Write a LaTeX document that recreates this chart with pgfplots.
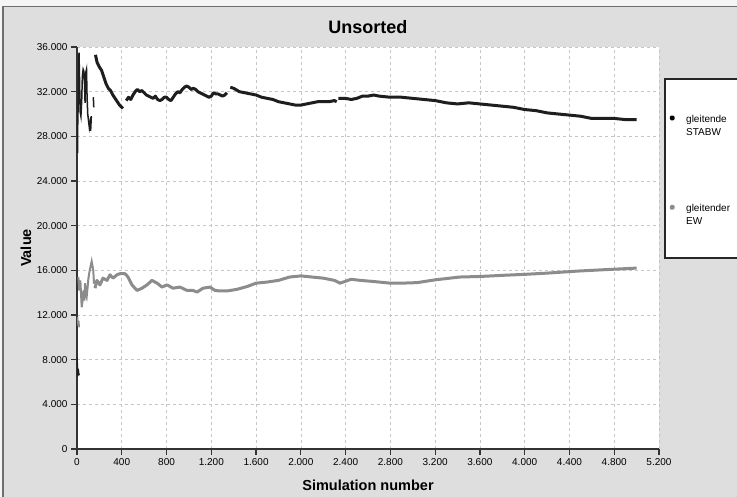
\documentclass[border=0pt]{standalone}
\usepackage{pgfplots}
\pgfplotsset{compat=1.18}
\usepackage{fontspec}
\setmainfont{Liberation Sans}
\definecolor{bgc}{RGB}{222,222,222}
\definecolor{framec}{RGB}{110,110,110}
\definecolor{stabw}{RGB}{30,30,30}
\definecolor{ew}{RGB}{140,140,140}
\begin{document}
\begin{tikzpicture}
\useasboundingbox (0,0) rectangle (737pt,497pt);
\fill[bgc] (0,0) rectangle (737pt,497pt);
\fill[gray!8] (0,491pt) rectangle (737pt,497pt);
\fill[gray!8] (0,0) rectangle (3pt,497pt);
\draw[framec, line width=1.5pt] (3pt,0) -- (3pt,490.5pt) -- (737pt,490.5pt);
\fill[white] (665pt,418pt) rectangle (760pt,239pt);
\draw[black!85, line width=1.5pt] (760pt,418pt) -- (665pt,418pt) -- (665pt,239pt) -- (760pt,239pt);
\begin{axis}[
  at={(77pt,48pt)}, anchor=south west,
  scale only axis, width=582pt, height=402pt,
  xmin=0, xmax=5200, ymin=0, ymax=36000,
  xtick={0,400,...,5200}, ytick={0,4000,...,36000},
  scaled ticks=false,
  /pgf/number format/.cd, 1000 sep={.}, assume math mode=true, /pgfplots/.cd,
  axis x line*=bottom, axis y line*=left,
  axis line style={black!80, line width=1.5pt, -},
  axis background/.style={fill=white},
  tick align=outside, major tick length=6pt,
  tick style={black!80, line width=1.2pt},
  grid=major,
  major grid style={gray!45, line width=0.6pt, dash pattern=on 3pt off 3pt},
  ticklabel style={font=\fontsize{10}{12}\selectfont},
  title={Unsorted},
  title style={font=\fontsize{18}{20}\selectfont\bfseries, at={(axis description cs:0.5,1.034)}, anchor=center},
  xlabel={Simulation number},
  xlabel style={font=\fontsize{14.5}{16}\selectfont\bfseries, at={(axis description cs:0.5,-0.0896)}, anchor=center},
  ylabel={Value},
  ylabel style={font=\fontsize{14.5}{16}\selectfont\bfseries, at={(axis description cs:-0.0876,0.5)}, anchor=center},
  unbounded coords=jump,
  legend style={at={(axis description cs:1.0172,0.831)}, anchor=north west, draw=none, fill=none,
    font=\fontsize{10}{12.5}\selectfont, row sep=68pt, inner sep=0pt,
    nodes={align=left, inner sep=0pt}},
  legend cell align=left,
]
% STABW main
\addplot[stabw, line width=3pt, line join=round,
  legend image code/.code={\path[draw=none,fill=none] (0,0) -- (17pt,0); \fill[black] (3pt,8pt) circle (1.3pt);}]
coordinates {
(165,35300)(180,34600)(200,34200)(220,33900)(240,33300)(260,32700)(280,32300)(300,32100)(320,31700)(340,31400)(360,31100)(380,30800)(400,30600)(410,30500)
(425,nan)
(440,31200)(460,31500)(480,31300)(500,31700)(520,32000)(540,32200)(560,32000)(580,32100)(600,31900)(620,31700)(640,31600)(660,31500)(680,31400)(700,31600)(720,31300)(740,31200)(760,31300)(780,31500)(800,31500)(820,31300)(840,31200)(860,31500)(880,31800)(900,32000)(920,31900)(940,32200)(960,32400)(980,32500)(1000,32400)(1020,32200)(1040,32300)(1060,32200)(1080,32000)(1100,31900)(1120,31800)(1140,31700)(1160,31600)(1180,31500)(1200,31600)(1220,31900)(1240,31800)(1260,31800)(1280,31700)(1300,31600)(1320,31700)(1340,31900)
(1355,nan)
(1370,32400)(1400,32300)(1450,32000)(1500,31900)(1550,31800)(1600,31700)(1650,31500)(1700,31400)(1750,31300)(1800,31100)(1850,31000)(1900,30900)(1950,30800)(2000,30800)(2050,30900)(2100,31000)(2150,31100)(2200,31100)(2250,31100)(2300,31200)(2320,31100)
(2325,nan)
(2335,31400)(2400,31400)(2450,31300)(2500,31400)(2550,31600)(2600,31600)(2650,31700)(2700,31600)(2800,31500)(2900,31500)(3000,31400)(3100,31300)(3200,31200)(3300,31000)(3400,30900)(3500,31000)(3600,30900)(3700,30800)(3800,30700)(3900,30600)(4000,30400)(4100,30300)(4200,30100)(4300,30000)(4400,29900)(4500,29800)(4600,29600)(4700,29600)(4800,29600)(4900,29500)(5000,29500)
};
\addlegendentry{gleitende\\STABW}
% EW main
\addplot[ew, line width=3pt, line join=round,
  legend image code/.code={\path[draw=none,fill=none] (0,0) -- (17pt,0); \fill[ew] (3pt,8pt) circle (1.3pt);}]
coordinates {
(161,14400)(178,15100)(205,14700)(232,15300)(268,15100)(295,15600)(322,15300)(357,15600)(384,15700)(429,15700)(456,15400)(491,14700)(536,14200)(581,14400)(626,14700)(670,15100)(715,14850)(760,14500)(804,14700)(858,14400)(920,14500)(983,14200)(1037,14200)(1072,14050)(1126,14400)(1188,14500)(1233,14200)(1280,14150)(1340,14150)(1430,14300)(1520,14550)(1600,14850)(1700,14950)(1800,15100)(1900,15400)(2000,15500)(2100,15400)(2200,15300)(2300,15100)(2350,14850)(2450,15200)(2530,15100)(2650,15000)(2800,14850)(2900,14850)(3040,14900)(3200,15150)(3420,15400)(3600,15450)(3800,15550)(4020,15650)(4200,15750)(4470,15930)(4700,16050)(5000,16200)
};
\addlegendentry{gleitender\\EW}
% early parts
\addplot[stabw, line width=1.5pt, forget plot] coordinates {
(5,26500)(7,29500)(10,30500)(14,33000)(18,35500)(22,33500)(28,30200)(35,29800)(42,31200)(48,33400)(55,34000)(62,33800)(68,32500)(72,31000)(78,33700)(85,34000)(90,31500)(96,30000)(104,29300)(110,28800)(116,29200)(122,28500)(128,29800)
(138,nan)(146,31500)(150,30600)
};
\addplot[stabw, line width=1.5pt, forget plot] coordinates {
(0,8200)(3,7500)(6,6500)(10,7200)(15,6800)(20,6600)
};
\addplot[ew, line width=2pt, forget plot] coordinates {
(12,15400)(20,14200)(30,15100)(42,12700)(50,13300)(57,14200)(65,13300)(72,14850)(80,13800)(86,13600)(95,14500)(101,15200)(110,15800)(120,16300)(131,16800)(140,16300)(146,15900)(152,14800)
};
\addplot[ew, line width=1.5pt, forget plot] coordinates {
(5,11800)(10,11000)(15,11500)(20,10900)
};
\end{axis}
\end{tikzpicture}
\end{document}
